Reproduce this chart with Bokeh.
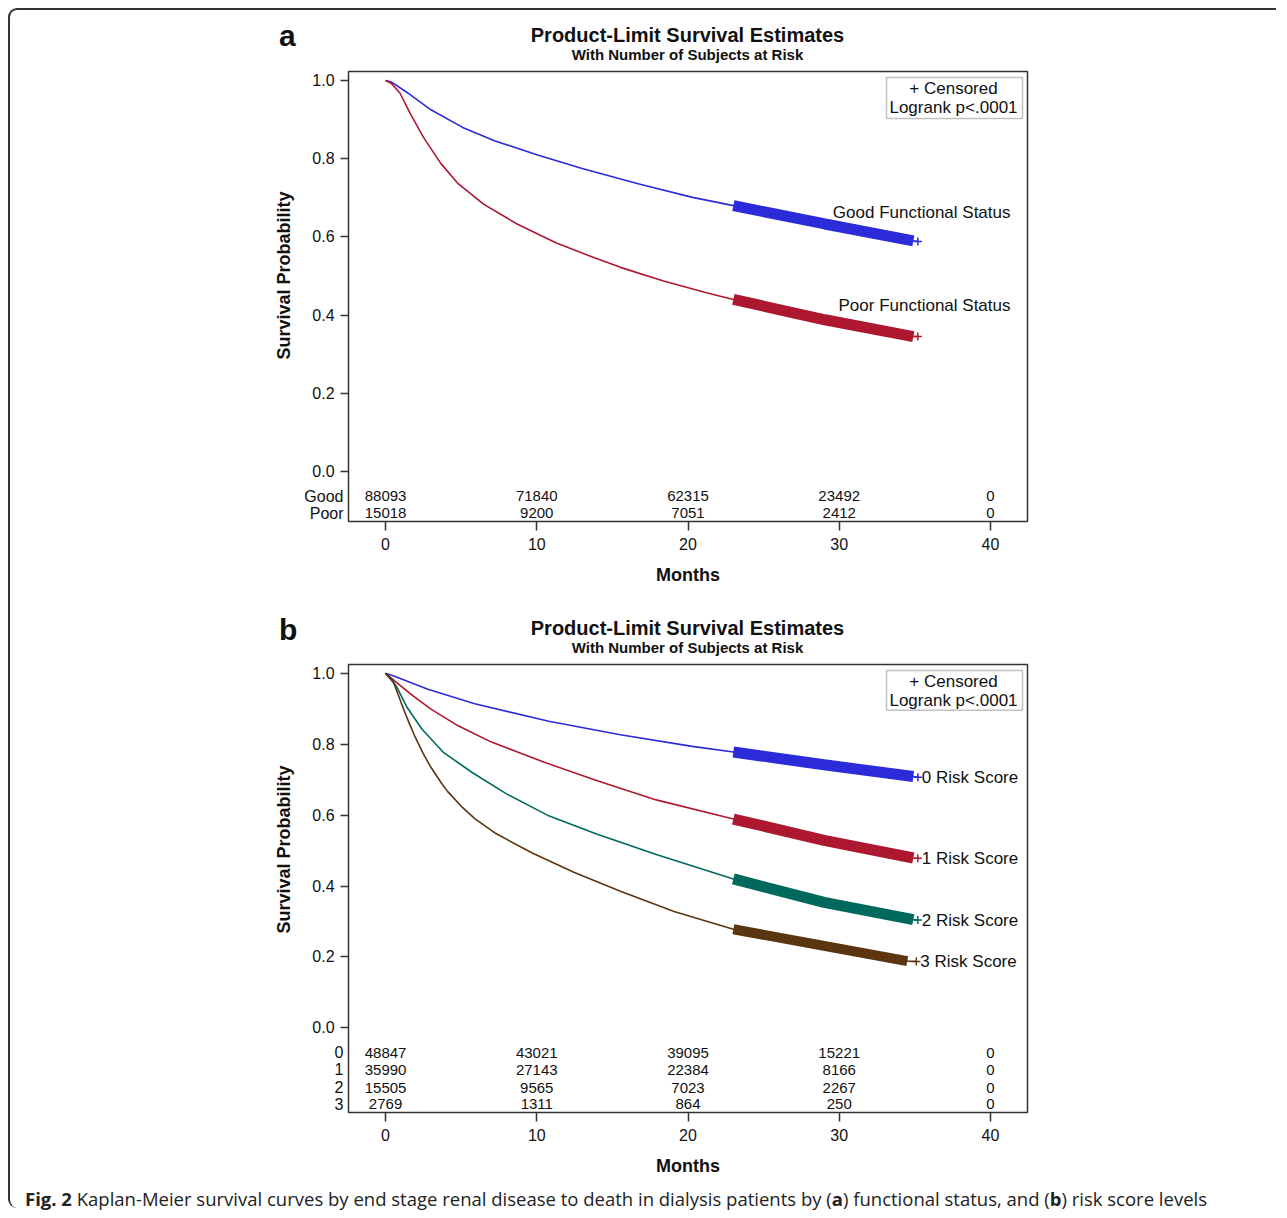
import numpy as np
from bokeh.plotting import figure
from bokeh.models import (ColumnDataSource, Label, BoxAnnotation, FixedTicker,
                          Div, Title)
from bokeh.layouts import column
from bokeh.core.properties import value
from bokeh.embed import file_html
from bokeh.resources import INLINE

FONT = "Liberation Sans"

# ---------------- data: panel a (functional status) ----------------
good_t = [0, 0.4, 1.4, 3.0, 5.1, 7.2, 10.0, 13.0, 16.7, 20.3, 23.0, 29.05, 34.9, 35.2]
good_s = [1.0, 0.996, 0.970, 0.925, 0.880, 0.846, 0.810, 0.775, 0.736, 0.701, 0.680, 0.633, 0.590, 0.588]
poor_t = [0, 0.4, 0.95, 1.6, 2.5, 3.65, 4.8, 6.5, 8.7, 11.26, 13.64, 15.53, 18.38, 21.22, 23.0, 29.05, 34.9, 35.2]
poor_s = [1.0, 0.992, 0.968, 0.918, 0.855, 0.788, 0.736, 0.683, 0.633, 0.585, 0.549, 0.522, 0.487, 0.457, 0.440, 0.388, 0.345, 0.345]

# ---------------- data: panel b (risk score) ----------------
rs0_t = [0, 0.5, 2.8, 5.9, 10.79, 15.53, 20.28, 23.0, 29.0, 34.9, 35.2]
rs0_s = [1.0, 0.993, 0.955, 0.914, 0.865, 0.827, 0.794, 0.778, 0.742, 0.709, 0.707]
rs1_t = [0, 0.9, 1.8, 3.0, 4.8, 7.0, 10.5, 14.0, 17.9, 23.0, 29.0, 34.9, 35.2]
rs1_s = [1.0, 0.968, 0.937, 0.899, 0.852, 0.806, 0.749, 0.697, 0.643, 0.589, 0.529, 0.479, 0.478]
rs2_t = [0, 0.7, 1.4, 2.4, 3.8, 5.7, 8.0, 10.7, 14.0, 17.9, 23.0, 29.0, 34.9, 35.2]
rs2_s = [1.0, 0.965, 0.906, 0.843, 0.778, 0.721, 0.660, 0.600, 0.546, 0.489, 0.420, 0.354, 0.305, 0.304]
rs3_t = [0, 0.5, 0.85, 1.2, 1.55, 1.9, 2.5, 3.0, 3.7, 4.1, 5.1, 5.9, 7.3, 9.7, 12.45, 15.53, 19.08, 23.0, 29.0, 34.5, 35.1]
rs3_s = [1.0, 0.978, 0.938, 0.898, 0.861, 0.826, 0.773, 0.735, 0.690, 0.667, 0.621, 0.590, 0.548, 0.493, 0.439, 0.385, 0.328, 0.278, 0.231, 0.188, 0.187]

CENSOR_START = 23.0  # months from which censoring marks are dense

# ---------------- numbers at risk ----------------
risk_times = [0, 10, 20, 30, 40]
risk_good = [88093, 71840, 62315, 23492, 0]
risk_poor = [15018, 9200, 7051, 2412, 0]
risk_rs0 = [48847, 43021, 39095, 15221, 0]
risk_rs1 = [35990, 27143, 22384, 8166, 0]
risk_rs2 = [15505, 9565, 7023, 2267, 0]
risk_rs3 = [2769, 1311, 864, 250, 0]

x_ticks = [0, 10, 20, 30, 40]
y_ticks = [0.0, 0.2, 0.4, 0.6, 0.8, 1.0]

TITLE = "Product-Limit Survival Estimates"
SUBTITLE = "With Number of Subjects at Risk"
YLABEL = "Survival Probability"

BLUE, RED, GREEN, BROWN = "#2B2BDA", "#AE1730", "#00695E", "#5A3510"
INK = "#111111"
NB = "\u00a0"

# ---------------- layout constants ----------------
FIG_W = 1266
FRAME_L = 338
FRAME_W = 679
FRAME_H = 450
X_START, X_END = -2.45, 42.45
PPX = FRAME_W / (X_END - X_START)
YLABEL_LEN = 168  # rendered length of the y-axis title in px


def header(letter, height, letter_top, title_top, sub_top):
    html = (
        f'<div style="position:relative;width:{FIG_W}px;height:{height}px;'
        f"font-family:'Liberation Sans',Arial,sans-serif;color:{INK};\">"
        f'<div style="position:absolute;left:{FRAME_L - 69}px;top:{letter_top}px;'
        f'font-size:30px;line-height:30px;font-weight:bold;">{letter}</div>'
        f'<div style="position:absolute;left:{FRAME_L}px;width:{FRAME_W}px;top:{title_top}px;'
        f'text-align:center;font-size:20px;line-height:20px;font-weight:bold;">{TITLE}</div>'
        f'<div style="position:absolute;left:{FRAME_L}px;width:{FRAME_W}px;top:{sub_top}px;'
        f'text-align:center;font-size:15px;line-height:16px;font-weight:bold;">{SUBTITLE}</div>'
        f"</div>"
    )
    return Div(text=html, width=FIG_W, height=height, margin=0)


def make_panel(letter, height, bottom_b, y_start, y_end, curves, risk_rows,
               row_ys, curve_labels_end, side_labels, ylab_standoff):
    ppy = FRAME_H / (y_end - y_start)
    p = figure(width=FIG_W, height=height, x_range=(X_START, X_END),
               y_range=(y_start, y_end), output_backend="svg",
               toolbar_location=None, tools="",
               min_border_left=FRAME_L, min_border_right=FIG_W - FRAME_L - FRAME_W,
               min_border_top=2, min_border_bottom=bottom_b)
    p.background_fill_color = "white"
    p.border_fill_color = "white"
    p.outline_line_color = "#333333"
    p.outline_line_width = 1.5
    p.grid.visible = False

    xa = p.xaxis[0]
    xa.ticker = FixedTicker(ticks=x_ticks)
    xa.minor_tick_line_color = None
    xa.major_tick_out = 9
    xa.major_tick_in = 0
    xa.major_tick_line_color = "#333333"
    xa.major_tick_line_width = 1.5
    xa.axis_line_color = None
    xa.major_label_text_font = FONT
    xa.major_label_text_font_size = "16px"
    xa.major_label_text_color = INK
    xa.major_label_standoff = 7
    xa.axis_label = "Months"
    xa.axis_label_text_font = FONT
    xa.axis_label_text_font_style = "bold"
    xa.axis_label_text_font_size = "18px"
    xa.axis_label_text_color = INK
    xa.axis_label_standoff = 12

    # y axis: numeric ticks (marked with minor ticks) + at-risk row names
    ya = p.yaxis[0]
    ya.ticker = FixedTicker(ticks=y_ticks + list(row_ys), minor_ticks=y_ticks)
    overrides = {t: f"{t:.1f}{NB}{NB}" for t in y_ticks}
    for (name, _), ry in zip(risk_rows, row_ys):
        overrides[ry] = name
    ya.major_label_overrides = overrides
    ya.major_tick_out = 0
    ya.major_tick_in = 0
    ya.major_tick_line_color = None
    ya.minor_tick_out = 8
    ya.minor_tick_in = 0
    ya.minor_tick_line_color = "#333333"
    ya.minor_tick_line_width = 1.5
    ya.axis_line_color = None
    ya.major_label_text_font = FONT
    ya.major_label_text_font_size = "16px"
    ya.major_label_text_color = INK
    ya.major_label_standoff = -3

    # y-axis title, centred on the 0..1 part of the axis
    p.add_layout(Title(text=YLABEL, align="left", vertical_align="bottom",
                       offset=int(round((0.5 - y_start) * ppy - YLABEL_LEN / 2)),
                       standoff=ylab_standoff, text_font=FONT, text_font_style="bold",
                       text_font_size="18px", text_color=INK), "left")

    # curves
    for t, s, color, band_w in curves:
        t = np.array(t, dtype=float)
        s = np.array(s, dtype=float)
        p.line(t, s, line_color=color, line_width=1.6, line_join="round")
        m = t >= CENSOR_START
        m[-1] = False
        p.line(t[m], s[m], line_color=color, line_width=band_w, line_cap="butt")
        p.scatter([t[-1]], [s[-1]], marker="cross", size=8, line_color=color, line_width=1.5)

    # at-risk table
    xs, ys, txt = [], [], []
    for (name, counts), ry in zip(risk_rows, row_ys):
        for tt, c in zip(risk_times, counts):
            xs.append(tt)
            ys.append(ry)
            txt.append(str(c))
    src = ColumnDataSource(dict(x=xs, y=ys, text=txt))
    p.text(x="x", y="y", text="text", source=src, text_align="center",
           text_baseline="middle", text_font=value(FONT), text_font_size="15px",
           text_color=INK)

    # legend box
    p.add_layout(BoxAnnotation(left=X_START + 538 / PPX, right=X_END - 5 / PPX,
                               top=y_end - 6 / ppy,
                               bottom=y_end - (47 if letter == "a" else 46) / ppy,
                               fill_color="white", fill_alpha=1.0,
                               line_color="#333333", line_width=1.5, level="annotation"))
    for txt_, off in (("+ Censored", 17), ("Logrank p<.0001", 36)):
        p.add_layout(Label(x=X_END, x_offset=-74, y=y_end - off / ppy, text=txt_,
                           text_align="center", text_baseline="middle", text_font=FONT,
                           text_font_size="17px", text_color=INK))

    # curve labels
    for txt_, t, s in curve_labels_end:
        p.add_layout(Label(x=t[-1], y=s[-1], x_offset=4, text=txt_, text_align="left",
                           text_baseline="middle", text_font=FONT, text_font_size="17px",
                           text_color=INK))
    for txt_, off in side_labels:
        p.add_layout(Label(x=X_END, x_offset=-17, y=y_end - off / ppy, text=txt_,
                           text_align="right", text_baseline="middle", text_font=FONT,
                           text_font_size="17px", text_color=INK))
    return p


ha = header("a", 59, 11, 15, 37)
pa = make_panel(
    "a", 524, 72, -0.128, 1.023,
    curves=[(good_t, good_s, BLUE, 11), (poor_t, poor_s, RED, 11)],
    risk_rows=[("Good", risk_good), ("Poor", risk_poor)],
    row_ys=[-0.064, -0.107],
    curve_labels_end=[],
    side_labels=[("Good Functional Status", 141), ("Poor Functional Status", 234)],
    ylab_standoff=15,
)

hb = header("b", 69, 22, 25, 47)
pb = make_panel(
    "b", 516, 64, -0.239, 1.025,
    curves=[(rs0_t, rs0_s, BLUE, 11), (rs1_t, rs1_s, RED, 11),
            (rs2_t, rs2_s, GREEN, 11), (rs3_t, rs3_s, BROWN, 10)],
    risk_rows=[("0", risk_rs0), ("1", risk_rs1), ("2", risk_rs2), ("3", risk_rs3)],
    row_ys=[-0.070, -0.118, -0.1685, -0.2163],
    curve_labels_end=[("0 Risk Score", rs0_t, rs0_s), ("1 Risk Score", rs1_t, rs1_s),
                      ("2 Risk Score", rs2_t, rs2_s), ("3 Risk Score", rs3_t, rs3_s)],
    side_labels=[],
    ylab_standoff=31,
)

cap = Div(
    text="<b>Fig. 2</b> Kaplan-Meier survival curves by end stage renal disease to death in "
         "dialysis patients by (<b>a</b>) functional status, and (<b>b</b>) risk score levels",
    width=FIG_W, height=30, margin=0,
    styles={"font-family": "'Open Sans', sans-serif", "font-size": "18.5px",
            "color": "#222222", "padding-left": "15px", "padding-top": "11px",
            "line-height": "20px", "white-space": "nowrap"},
)

layout = column(ha, pa, hb, pb, cap,
                styles={"margin": "8px 0 0 8px",
                        "border-left": "2px solid #333333", "border-top": "2px solid #333333",
                        "border-top-left-radius": "9px", "border-bottom-left-radius": "9px"})

open("out.html", "w").write(file_html(layout, INLINE))
